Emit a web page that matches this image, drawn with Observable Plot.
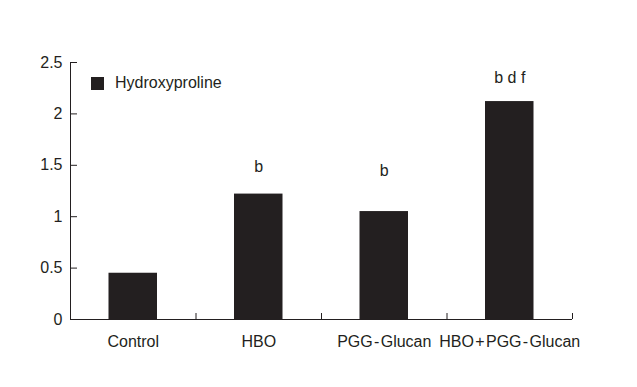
<!DOCTYPE html>
<html>
<head>
<meta charset="utf-8">
<script src="https://cdn.jsdelivr.net/npm/d3@7"></script>
<script src="https://cdn.jsdelivr.net/npm/@observablehq/plot@0.6"></script>
<style>
  html, body { margin: 0; padding: 0; background: #fff; }
  #wrap { position: relative; width: 637px; height: 387px; }
  #legend { position: absolute; left: 91px; top: 74px; font: 16px "Liberation Sans", Arial, sans-serif; color: #231f20; display: flex; align-items: center; }
  #legend .sw { width: 13px; height: 13px; background: #231f20; margin-right: 11px; }
</style>
</head>
<body>
<div id="wrap"><div id="legend"><span class="sw"></span><span>Hydroxyproline</span></div></div>
<script>
const categories = ["Control", "HBO", "PGG - Glucan", "HBO + PGG - Glucan"];
const values = [0.45, 1.22, 1.05, 2.12];
const sigLabels = ["", "b", "b", "b d f"];
const sigHeights = [0, 1.48, 1.45, 2.355];
const yTicks = [0, 0.5, 1, 1.5, 2, 2.5];
const seriesName = "Hydroxyproline";

const data = categories.map((c, i) => ({c, i, v: values[i], s: sigLabels[i], sh: sigHeights[i]}));
const ink = "#231f20";

const chart = Plot.plot({
  width: 637,
  height: 387,
  marginTop: 62,
  marginBottom: 68,
  marginLeft: 70,
  marginRight: 65,
  style: {fontFamily: "'Liberation Sans', Arial, sans-serif", fontSize: "16px", color: ink, background: "#fff"},
  x: {domain: [0, categories.length], axis: null},
  y: {domain: [0, 2.5], axis: null},
  marks: [
    Plot.rectY(data, {x1: d => d.i, x2: d => d.i + 1, y: "v", fill: ink, insetLeft: 38.5, insetRight: 38.5}),
    Plot.axisY({ticks: yTicks, tickSize: -7, tickPadding: 15, tickFormat: d => String(d), stroke: ink, fill: ink, fontSize: 16}),
    Plot.axisX({ticks: d3.range(1, categories.length + 1), tickSize: -6, tickFormat: () => "", stroke: ink}),
    Plot.ruleX([0], {stroke: ink}),
    Plot.ruleY([0], {stroke: ink}),
    Plot.text(data, {x: d => d.i + 0.5, text: d => d.c.replace(/ ([-+]) /g, "\u200A$1\u200A"), frameAnchor: "bottom", dy: 27, fill: ink, fontSize: 16}),
    Plot.text(data.filter(d => d.s), {x: d => d.i + 0.5, y: "sh", text: "s", fill: ink, fontSize: 16})
  ]
});
document.getElementById("wrap").prepend(chart);
</script>
</body>
</html>
